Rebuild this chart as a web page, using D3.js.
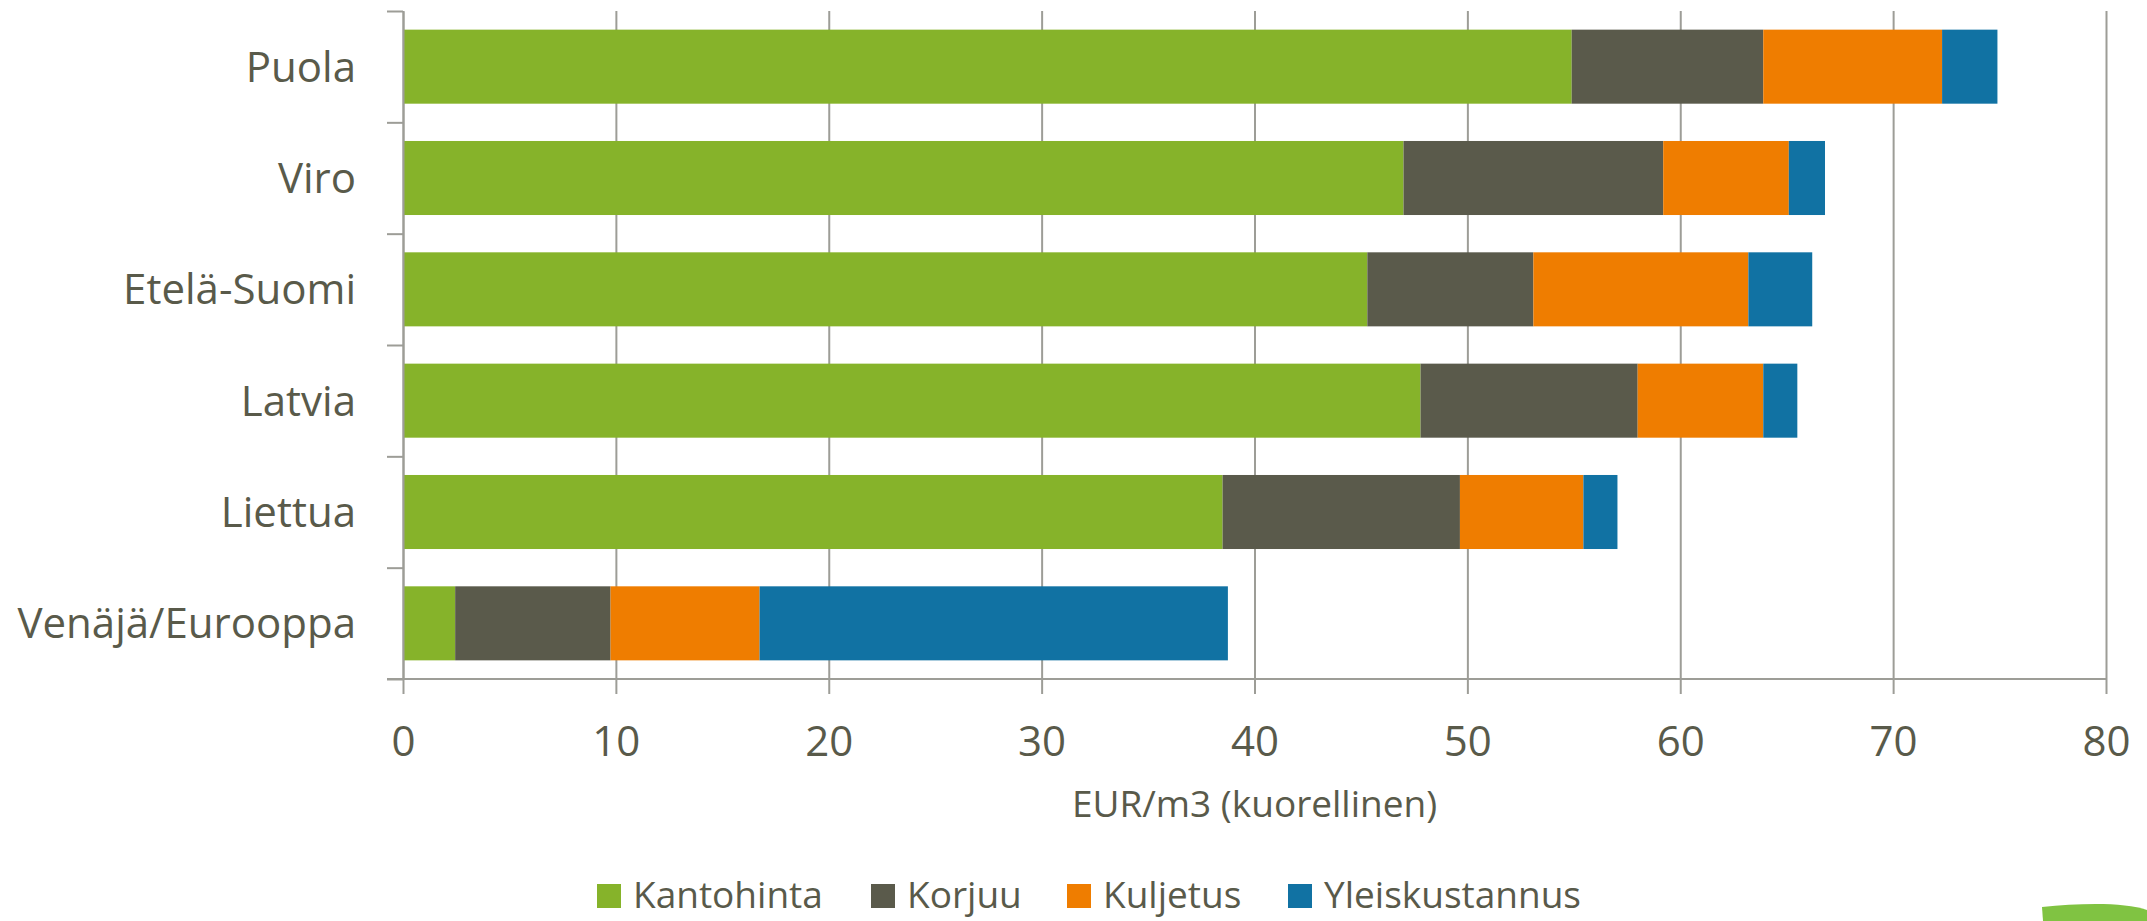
<!DOCTYPE html>
<html lang="fi">
<head>
<meta charset="UTF-8">
<title>Kustannukset</title>
<script src="https://cdn.jsdelivr.net/npm/d3@7/dist/d3.min.js"></script>
<style>
  body { margin: 0; background: #fff; }
  svg text { font-family: "Open Sans", "DejaVu Sans", sans-serif; fill: #595a4a; }
  .axis path, .axis line { stroke: #9d9d97; stroke-width: 2px; }
  .grid line { stroke: #9d9d97; stroke-width: 2px; }
  .grid path { display: none; }
</style>
</head>
<body>
<svg id="chart" width="2147" height="921"></svg>
<script>
// data
var categories = ["Puola", "Viro", "Etelä-Suomi", "Latvia", "Liettua", "Venäjä/Eurooppa"];
var seriesNames = ["Kantohinta", "Korjuu", "Kuljetus", "Yleiskustannus"];
var kantohinta = [54.9, 47.0, 45.3, 47.8, 38.5, 2.45];
var korjuu = [9.0, 12.2, 7.8, 10.2, 11.15, 7.3];
var kuljetus = [8.4, 5.9, 10.1, 5.9, 5.8, 7.0];
var yleiskustannus = [2.6, 1.7, 3.0, 1.6, 1.6, 22.0];
var xTicks = [0, 10, 20, 30, 40, 50, 60, 70, 80];
var colors = ["#86b32a", "#5a5a4b", "#ef7d00", "#1172a3"];

var margin = {top: 11, right: 41, bottom: 242, left: 403},
    W = 2147, H = 921,
    width = W - margin.left - margin.right,
    height = H - margin.top - margin.bottom;

var svg = d3.select("#chart");
var g = svg.append("g").attr("transform", "translate(" + margin.left + "," + margin.top + ")");

var x = d3.scaleLinear().domain([0, 80]).range([0, width]);
var y = d3.scaleBand().domain(categories).range([0, height]).paddingInner(0.335).paddingOuter(0.1675);

// table for the stack
var rows = categories.map(function(c, i) {
  return {cat: c, Kantohinta: kantohinta[i], Korjuu: korjuu[i], Kuljetus: kuljetus[i], Yleiskustannus: yleiskustannus[i]};
});
var stacked = d3.stack().keys(seriesNames)(rows);

// vertical gridlines
g.append("g").attr("class", "grid")
  .call(d3.axisTop(x).tickValues(xTicks).tickSize(-height).tickFormat(""));

// bars
g.selectAll("g.series").data(stacked).enter().append("g")
  .attr("class", "series")
  .attr("fill", function(d, i) { return colors[i]; })
  .selectAll("rect").data(function(d) { return d; }).enter().append("rect")
    .attr("x", function(d) { return x(d[0]); })
    .attr("y", function(d) { return y(d.data.cat); })
    .attr("width", function(d) { return x(d[1]) - x(d[0]); })
    .attr("height", y.bandwidth());

// x axis
var xAxis = g.append("g").attr("class", "axis")
  .attr("transform", "translate(0," + height + ")")
  .call(d3.axisBottom(x).tickValues(xTicks).tickSize(15).tickSizeOuter(0));
xAxis.select(".domain").attr("d", "M-16,0H" + width);
xAxis.selectAll("text").attr("font-size", 42).attr("y", 77).attr("dy", 0)
  .style("fill", "#595a4a");

// y axis: ticks at the band boundaries, labels in the middle
var yb = d3.scaleLinear().domain([0, categories.length]).range([0, height]);
g.append("g").attr("class", "axis")
  .call(d3.axisLeft(yb).tickValues(d3.range(categories.length + 1)).tickSize(16).tickSizeOuter(0).tickFormat(""));
g.append("g").selectAll("text").data(categories).enter().append("text")
  .attr("x", -47)
  .attr("y", function(d) { return y(d) + y.bandwidth() / 2; })
  .attr("dy", "0.36em")
  .attr("text-anchor", "end")
  .attr("font-size", 42)
  .text(function(d) { return d; });

// axis title
svg.append("text")
  .attr("x", margin.left + width / 2)
  .attr("y", 817)
  .attr("text-anchor", "middle")
  .attr("font-size", 37)
  .text("EUR/m3 (kuorellinen)");

// legend
var legendX = [597, 871, 1067, 1288];
var legend = svg.append("g").selectAll("g").data(seriesNames).enter().append("g")
  .attr("transform", function(d, i) { return "translate(" + legendX[i] + ",884)"; });
legend.append("rect").attr("width", 24).attr("height", 24)
  .attr("fill", function(d, i) { return colors[i]; });
legend.append("text").attr("x", 36).attr("y", 24).attr("font-size", 37)
  .text(function(d) { return d; });

// green corner shape
svg.append("path")
  .attr("d", "M2042,907 C2080,903 2125,902 2147,910 L2147,921 L2043,921 Z")
  .attr("fill", "#80c342");
</script>
</body>
</html>
